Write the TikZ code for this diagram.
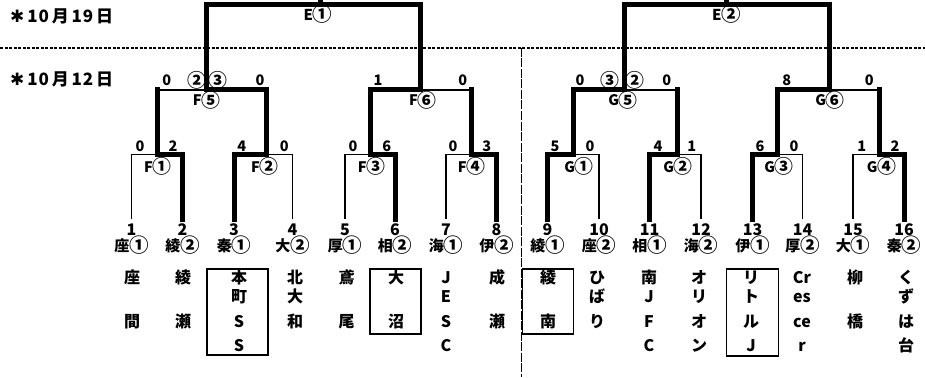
\documentclass[tikz,border=0pt]{standalone}
\usepackage{fontspec}
\usepackage{graphicx}
\setmainfont{Noto Sans CJK JP}
\newfontfamily\dejavu{DejaVu Sans}
\newcommand\cd[1]{\raisebox{-0.09em}{\scalebox{1.3}{#1}}}
\begin{document}
\begin{tikzpicture}[x=1pt,y=-1pt,
  thinl/.style={line width=1.4pt},
  winl/.style={line width=5pt,line cap=rect},
  dashl/.style={line width=1.1pt,dash pattern=on 3pt off 1.5pt},
  vdashl/.style={line width=1.1pt,dash pattern=on 9pt off 1.5pt},
  numtxt/.style={font=\bfseries\fontsize{16}{16}\selectfont,inner sep=0pt,anchor=base},
  teamtxt/.style={font=\bfseries\fontsize{15}{15}\selectfont,inner sep=0pt,anchor=base},
  clubtxt/.style={font=\bfseries\fontsize{16}{16}\selectfont,inner sep=0pt,anchor=base},
  scoretxt/.style={font=\bfseries\fontsize{14.5}{14.5}\selectfont,inner sep=0pt,anchor=base},
  roundtxt/.style={font=\bfseries\fontsize{14.5}{14.5}\selectfont,inner sep=0pt,anchor=base},
  datetxt/.style={font=\bfseries\fontsize{17}{17}\selectfont,inner sep=0pt,anchor=base west},
  clubbox/.style={draw,line width=1.4pt,inner sep=0pt}
]
\fill[white] (0,0) rectangle (925,377);
\useasboundingbox (0,0) rectangle (925,377);

% dates and separators
\node[datetxt] (d19) at (10,23) {{\dejavu ✱}\,1\kern1pt0\,月\,1\kern1pt9\,日};
\node[datetxt] (d12) at (10,86) {{\dejavu ✱}\,1\kern1pt0\,月\,1\kern1pt2\,日};
\coordinate (hl) at (0,48); \coordinate (hr) at (925,48);
\coordinate (vt) at (521.7,48); \coordinate (vb) at (521.7,377);
\draw[dashl] (hl) -- (hr);
\draw[vdashl] (vt) -- (vb);

% leaves, numbers, team names
\foreach \x/\t [count=\i] in {131.5/座\cd{①},182.5/綾\cd{②},234/秦\cd{①},292.5/大\cd{②},345/厚\cd{①},395/相\cd{②},446/海\cd{①},496.5/伊\cd{②},547.5/綾\cd{①},599/座\cd{②},649.5/相\cd{①},701/海\cd{②},752.5/伊\cd{①},802.5/厚\cd{②},853/大\cd{①},904/秦\cd{②}}{
  \coordinate (l\i) at (\x,219);
  \node[numtxt] (n\i) at (\x,235) {\i};
  \node[teamtxt] (t\i) at (\x,251) {\t};
}

% club names (row baselines 283, 302, 327, 351)
\foreach \x/\r/\c [count=\k] in {
  132/1/座,132/3/間,
  183/1/綾,183/3/瀬,
  239/1/本,239/2/町,239/3/S,239/4/S,
  295/1/北,295/2/大,295/3/和,
  346.5/1/鳶,346.5/3/尾,
  396/1/大,396/3/沼,
  446/1/J,446/2/E,446/3/S,446/4/C,
  497/1/成,497/3/瀬,
  548/1/綾,548/3/南,
  597/1/ひ,597/2/ば,597/3/り,
  649/1/南,649/2/J,649/3/F,649/4/C,
  699/1/オ,699/2/リ,699/3/オ,699/4/ン,
  751/1/リ,751/2/ト,751/3/ル,751/4/J,
  802/1/Cr,802/2/es,802/3/ce,802/4/r,
  855/1/柳,855/3/橋,
  906/1/く,906/2/ず,906/3/は,906/4/台}{
  \pgfmathsetmacro\yy{\r==1 ? 283 : (\r==2 ? 302 : (\r==3 ? 327 : 351))}
  \node[clubtxt] (c\k) at (\x,\yy) {\c};
}

% boxes around clubs
\node[clubbox,minimum width=61pt,minimum height=86pt] (box3) at (237.5,312) {};
\node[clubbox,minimum width=51pt,minimum height=65pt] (box6) at (395.5,301.5) {};
\node[clubbox,minimum width=50.6pt,minimum height=65pt] (box9) at (548,301.5) {};
\node[clubbox,minimum width=51.6pt,minimum height=87pt] (box13) at (752.5,312.5) {};

% bracket junction coordinates
\foreach \n/\x in {f1/157,f2/266.5,f3/370,f4/471.5,g1/573,g2/677,g3/777,g4/879.5}{
  \coordinate (\n) at (\x,154.5);
  \coordinate (\n u) at (\x,90);
}
\foreach \n/\x in {f5/206.7,f6/420,g5/624.5,g6/829}{
  \coordinate (\n) at (\x,90);
  \coordinate (\n u) at (\x,5);
}
\coordinate (e1) at (320,5); \coordinate (e1t) at (320,-2);
\coordinate (e2) at (726.7,5); \coordinate (e2t) at (726.7,-2);

% losing lines
\draw[thinl] (l1) |- (f1);
\draw[thinl] (l4) |- (f2);
\draw[thinl] (l5) |- (f3);
\draw[thinl] (l7) |- (f4);
\draw[thinl] (l10) |- (g1);
\draw[thinl] (l12) |- (g2);
\draw[thinl] (l14) |- (g3);
\draw[thinl] (l15) |- (g4);
\draw[thinl] (f1u) -- (f5);
\draw[thinl] (f4u) -- (f6);
\draw[thinl] (g2u) -- (g5);
\draw[thinl] (g4u) -- (g6);

% winning lines
\draw[winl] (l2) |- (f1) -- (f1u);
\draw[winl] (l3) |- (f2) -- (f2u) -- (f5) -- (f5u) -- (e1) -- (e1t);
\draw[winl] (l6) |- (f3) -- (f3u) -- (f6) -- (f6u) -- (e1);
\draw[winl] (l8) |- (f4) -- (f4u);
\draw[winl] (l9) |- (g1) -- (g1u) -- (g5) -- (g5u) -- (e2) -- (e2t);
\draw[winl] (l11) |- (g2) -- (g2u);
\draw[winl] (l13) |- (g3) -- (g3u) -- (g6) -- (g6u) -- (e2);
\draw[winl] (l16) |- (g4) -- (g4u);

% first-round scores and labels
\foreach \x/\s [count=\k] in {140/0,173/2,241.7/4,284.3/0,353/0,386.7/6,453/0,486.7/3,555/5,590/0,658/4,691.7/1,760/6,794/0,861.7/1,895/2}{
  \node[scoretxt] (s\k) at (\x,151.7) {\s};
}
\foreach \x/\s [count=\k] in {158/F\cd{①},265/F\cd{②},371.7/F\cd{③},471.7/F\cd{④},579/G\cd{①},678/G\cd{②},779/G\cd{③},881.7/G\cd{④}}{
  \node[roundtxt] (r\k) at (\x,172) {\s};
}
% second-round scores and labels
\foreach \x/\s [count=\k] in {166.7/0,196.7/\cd{②},218/\cd{③},260/0,378/1,462.7/0,580/0,610/\cd{③},635/\cd{②},666.7/0,786.7/8,869.3/0}{
  \node[scoretxt] (ss\k) at (\x,86) {\s};
}
\foreach \x/\s [count=\k] in {206.7/F\cd{⑤},423/F\cd{⑥},623/G\cd{⑤},830/G\cd{⑥}}{
  \node[roundtxt] (rr\k) at (\x,106) {\s};
}
\node[roundtxt,font=\bfseries\fontsize{15}{15}\selectfont] (E1) at (318,20.5) {E\cd{①}};
\node[roundtxt,font=\bfseries\fontsize{15}{15}\selectfont] (E2) at (726.7,20.5) {E\cd{②}};
\end{tikzpicture}
\end{document}
